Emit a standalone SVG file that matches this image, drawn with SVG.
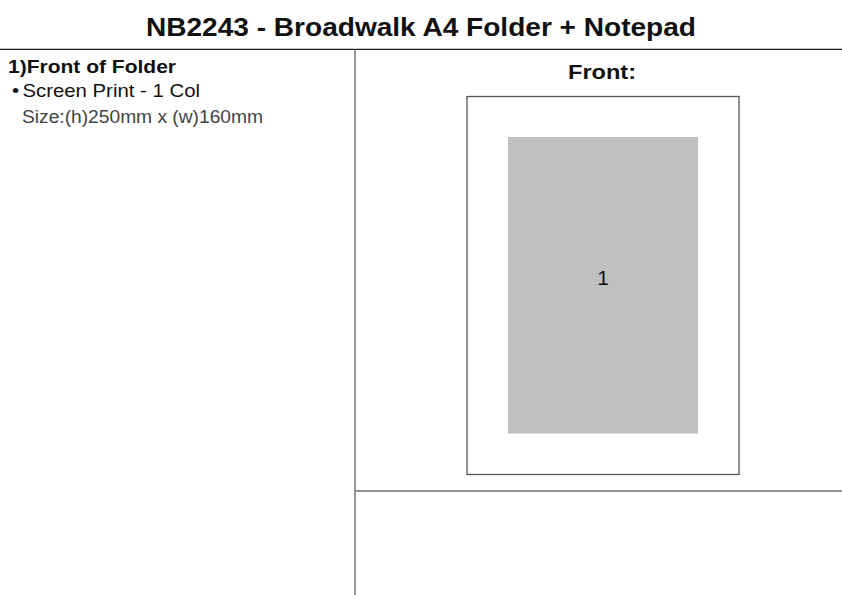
<svg xmlns="http://www.w3.org/2000/svg" width="842" height="595" viewBox="0 0 842 595">
<style>
.t{font-family:"Liberation Sans",Arial,Helvetica,sans-serif;fill:#111}
.b{font-weight:bold}
.ln{stroke:#6e6e6e;stroke-width:1.4;fill:none}
</style>
<rect width="842" height="595" fill="#fff"/>
<g id="frame">
<line x1="0" y1="49.3" x2="842" y2="49.3" stroke="#1a1a1a" stroke-width="1.2"/>
<line class="ln" x1="355" y1="49" x2="355" y2="595"/>
<line class="ln" x1="355" y1="491" x2="842" y2="491"/>
</g>
<g id="title">
<text class="t b" x="421" y="36" font-size="26.5" text-anchor="middle" textLength="550" lengthAdjust="spacingAndGlyphs">NB2243 - Broadwalk A4 Folder + Notepad</text>
</g>
<g id="spec">
<text class="t b" x="8" y="72.5" font-size="18.5" textLength="168" lengthAdjust="spacingAndGlyphs">1)Front of Folder</text>
<text class="t" x="12" y="96.5" font-size="18.5" textLength="188" lengthAdjust="spacingAndGlyphs">•<tspan dx="3">Screen Print - 1 Col</tspan></text>
<text class="t" x="22" y="123" font-size="18" style="fill:#444" textLength="241" lengthAdjust="spacingAndGlyphs">Size:(h)250mm x (w)160mm</text>
</g>
<g id="front">
<text class="t b" x="602" y="79" font-size="20.5" text-anchor="middle" textLength="68" lengthAdjust="spacingAndGlyphs">Front:</text>
<rect x="467" y="96.5" width="272" height="378" fill="#fff" stroke="#555" stroke-width="1.3"/>
<rect id="print-area" x="508" y="137" width="190" height="296.5" fill="#c0c0c0"/>
<text class="t" x="603" y="285" font-size="21" text-anchor="middle">1</text>
</g>
</svg>
